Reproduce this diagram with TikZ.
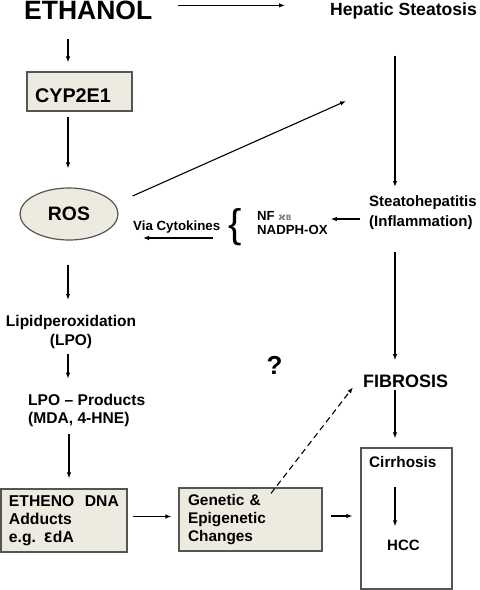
\documentclass[tikz,border=0pt]{standalone}
\usepackage{fontspec}
\setmainfont{Liberation Sans}
\newfontfamily\dejavu{DejaVu Sans}
\usetikzlibrary{arrows.meta,shapes.geometric}

\definecolor{boxfill}{RGB}{237,235,224}
\definecolor{boxline}{RGB}{85,85,85}
\definecolor{kgray}{RGB}{125,125,125}

\newcommand\fsz[2]{\fontsize{#1}{#2}\selectfont\bfseries}

\tikzset{
  txt/.style={inner sep=0pt},
  shadebox/.style={draw=boxline, fill=boxfill, line width=1.2pt},
  arr/.style={-{Latex[length=6pt,width=4.5pt]}, line width=1.1pt},
}

\begin{document}
\begin{tikzpicture}[x=1pt,y=-1pt]
        \useasboundingbox (0,0) rectangle (480,590);
        \coordinate (lcol) at (68,0);
        \coordinate (rcol) at (395,0);

        % Left column
        \node[txt, anchor=base west, font=\fsz{26.5}{30}] (ethanol) at (24,19.5) {ETHANOL};
        \node[shadebox, minimum width=105pt, minimum height=39pt, inner xsep=8pt, inner ysep=0pt,
              text width=89pt, text height=21pt, text depth=0pt, align=left, font=\fsz{19.8}{22}] (cyp) at (79.5,91.5) {CYP2E1};
        \node[ellipse, shadebox, minimum width=98pt, minimum height=52pt, inner sep=0pt, font=\fsz{19.4}{22}] (ros) at (69,214) {ROS};
        \node[txt, anchor=north, align=center, font=\fsz{15.5}{19}] (lipid) at (71,314.8) {Lipidperoxidation\\(LPO)};
        \node[txt, anchor=north west, align=left, font=\fsz{15.6}{18}] (lpo) at (28,393.7) {LPO -- Products\\(MDA, 4-HNE)};
        \node[shadebox, minimum width=126pt, minimum height=63pt, inner xsep=8pt, inner ysep=0pt,
              text width=110pt, align=left, font=\fsz{15.7}{18}] (etheno) at (64,520.5) {ETHENO~~DNA\\Adducts\\e.g. {\dejavu\fontsize{13}{18}\selectfont Ɛ}dA};
        \node[shadebox, minimum width=143pt, minimum height=63pt, inner xsep=9pt, inner ysep=0pt,
              text width=125pt, align=left, font=\fsz{15.4}{18}] (genetic) at (250.5,519.5) {Genetic \&\\Epigenetic\\Changes};

        % Middle texts
        \node[txt, anchor=base west, font=\fsz{13.3}{15}] (via) at (133,230) {Via Cytokines};
        \node[txt, font=\fontsize{40}{40}\selectfont] (brace) at (235,227.5) {\{};
        \node[txt, anchor=north west, align=left, font=\fsz{13.2}{14}] (nfkb) at (257,211.5)
              {NF {\color{kgray}\fontsize{10}{10}\selectfont\dejavu ϰ\fontsize{7.5}{8}\selectfont B}\\NADPH-OX};
        \node[txt, font=\fsz{26}{28}] (quest) at (274.5,365.5) {?};

        % Right column
        \node[txt, anchor=base west, font=\fsz{17.6}{20}] (hepatic) at (330,15) {Hepatic Steatosis};
        \node[txt, anchor=north west, align=left, font=\fsz{15}{19.5}] (steato) at (369,195.5) {Steatohepatitis\\(Inflammation)};
        \node[txt, anchor=base west, font=\fsz{18}{20}] (fib) at (363,387) {FIBROSIS};
        \node[draw=boxline, line width=1.3pt, minimum width=91pt, minimum height=141pt, inner sep=0pt] (liver) at (406.5,518.5) {};
        \node[txt, anchor=base west, font=\fsz{15.3}{18}] (cirr) at (369,467) {Cirrhosis};
        \node[txt, anchor=base west, font=\fsz{15}{18}] (hcc) at (387,550) {HCC};

        \coordinate (kick) at (346,101);

        % Arrows down the left column
        \draw[arr, shorten <=19pt, shorten >=9pt] (ethanol.south -| lcol) -- (cyp.north -| lcol);
        \draw[arr, shorten <=5pt, shorten >=19pt] (cyp.south -| lcol) -- (ros.north -| lcol);
        \draw[arr, shorten <=24pt, shorten >=15pt] (ros.south -| lcol) -- (lipid.north -| lcol);
        \draw[arr, shorten <=5pt, shorten >=15pt] (lipid.south -| lcol) -- (lpo.north -| lcol);
        \draw[arr, shorten <=7pt, shorten >=10pt] ([xshift=1pt]lpo.south -| lcol) -- ([xshift=1pt]etheno.north -| lcol);

        % Arrows down the right column
        \draw[arr, shorten <=37pt, shorten >=8.5pt] (hepatic.south -| rcol) -- (steato.north -| rcol);
        \draw[arr, shorten <=23pt, shorten >=14pt] (steato.south -| rcol) -- (fib.north -| rcol);
        \draw[arr, shorten <=3pt, shorten >=9pt] (fib.south -| rcol) -- (liver.north -| rcol);
        \draw[arr, shorten <=20pt, shorten >=13pt] (cirr.south -| rcol) -- (hcc.north -| rcol);

        % Cross arrows
        \draw[arr, shorten <=26pt, shorten >=45pt] ([yshift=5pt]ethanol.east) -- ([yshift=5pt]ethanol.east -| hepatic.west);
        \draw[arr] ([shift={(14,-18)}]ros.east) -- (kick);
        \draw[arr, shorten <=9pt, shorten >=3pt] ([yshift=-6.6pt]steato.west) -- ([yshift=-6.6pt]steato.west -| nfkb.east);
        \draw[arr, shorten <=15pt, shorten >=10pt] ([yshift=-5pt]via.south -| brace.west) -- ([yshift=-5pt]via.south west);
        \draw[arr, shorten <=5pt, shorten >=7pt] ([yshift=4pt]etheno.east) -- ([yshift=4pt]etheno.east -| genetic.west);
        \draw[arr, shorten <=8pt, shorten >=8pt] ([yshift=3.5pt]genetic.east) -- ([yshift=3.5pt]genetic.east -| liver.west);
        \draw[arr, dash pattern=on 6pt off 4pt] ([xshift=20.5pt, yshift=-6pt]genetic.north) -- ([xshift=-10pt, yshift=-6.5pt]fib.west);

    \end{tikzpicture}
\end{document}
